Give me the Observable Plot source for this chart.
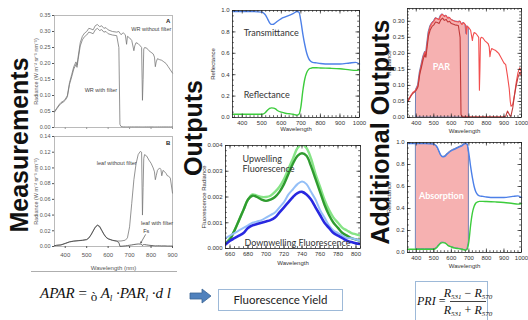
<!DOCTYPE html>
<html><head><meta charset="utf-8">
<script src="https://cdn.jsdelivr.net/npm/d3@7"></script>
<script src="https://cdn.jsdelivr.net/npm/@observablehq/plot@0.6"></script>
<style>
html,body{margin:0;padding:0;background:#fff;}
#root{position:relative;width:528px;height:320px;overflow:hidden;background:#fff;}
#root svg{position:absolute;overflow:visible;}
</style></head><body><div id="root"></div>
<script>
// ---------- DATA ----------
// Sky / white reference radiance (panel A and PAR panel)
const parWl = [350,360,370,380,390,400,410,420,430,440,450,455,460,470,480,490,500,510,520,530,540,550,560,570,580,590,600,620,640,650,655,660,670,680,686,690,700,710,720,724,730,740,750,756,760,763,766,770,780,790,800,810,816,820,824,830,840,850,860,870,880,890,900,910,920,930,936,940,950,960,970,980,990,1000];
const wrNoFilter = [0.05,0.06,0.07,0.078,0.082,0.088,0.10,0.14,0.165,0.19,0.205,0.195,0.22,0.265,0.285,0.295,0.30,0.31,0.308,0.305,0.318,0.322,0.315,0.318,0.31,0.312,0.305,0.30,0.298,0.30,0.295,0.29,0.296,0.29,0.26,0.285,0.28,0.272,0.24,0.255,0.265,0.262,0.255,0.25,0.085,0.15,0.245,0.25,0.248,0.24,0.235,0.23,0.22,0.19,0.205,0.215,0.212,0.21,0.205,0.2,0.19,0.18,0.17,0.165,0.13,0.09,0.05,0.035,0.04,0.07,0.11,0.14,0.155,0.14];
const wrFilter = [0.048,0.058,0.067,0.075,0.079,0.085,0.096,0.135,0.158,0.183,0.197,0.188,0.212,0.255,0.274,0.284,0.289,0.298,0.296,0.293,0.305,0.31,0.303,0.306,0.298,0.3,0.293,0.289,0.287,0.25,0.01,0.003,0.002,0.002,0.002,0.002,0.002,0.002,0.002,0.002,0.002,0.002,0.002,0.002,0.002,0.002,0.002,0.002,0.002,0.002,0.002,0.002,0.002,0.002,0.002,0.002,0.002,0.002,0.002,0.002,0.002,0.002,0.002,0.004,0.02,0.01,0.004,0.005,0.03,0.07,0.1,0.125,0.14,0.13];
// Leaf radiance (panel B)
const leafWl = [350,360,380,400,420,440,460,480,500,510,520,530,540,550,560,570,580,590,600,620,640,650,655,660,680,690,700,710,720,730,740,750,756,760,763,766,770,780,790,800,810,816,820,824,830,840,846,850,856,860,870,876,880,890,900];
const leafNoFilter = [0.001,0.0015,0.002,0.004,0.006,0.007,0.0075,0.008,0.009,0.011,0.015,0.02,0.025,0.0275,0.026,0.021,0.016,0.012,0.01,0.008,0.007,0.007,0.007,0.007,0.008,0.011,0.025,0.055,0.085,0.105,0.117,0.121,0.12,0.04,0.075,0.112,0.117,0.115,0.11,0.106,0.1,0.095,0.085,0.09,0.097,0.1,0.098,0.09,0.097,0.096,0.093,0.09,0.09,0.087,0.068];
const leafFilter = [0.001,0.0015,0.002,0.0038,0.0058,0.0068,0.0073,0.0078,0.0087,0.0107,0.0146,0.0195,0.0243,0.0268,0.0253,0.0204,0.0155,0.0117,0.0097,0.0078,0.0068,0.005,0.0003,0.0003,0.0008,0.0012,0.0016,0.002,0.0025,0.0029,0.0032,0.0031,0.0029,0.0012,0.002,0.0025,0.0024,0.002,0.0016,0.0013,0.0011,0.001,0.0008,0.0009,0.0009,0.0009,0.0008,0.0007,0.0008,0.0008,0.0007,0.0006,0.0006,0.0006,0.0005];
// Transmittance / reflectance
const trWl = [350,400,450,500,510,520,530,540,550,560,570,580,600,620,640,660,680,690,700,710,720,730,740,750,760,780,800,850,900,950,980,1000];
const transmittance = [0.99,0.99,0.99,0.985,0.975,0.955,0.92,0.885,0.87,0.872,0.885,0.9,0.925,0.94,0.955,0.97,0.99,0.985,0.9,0.78,0.68,0.6,0.55,0.525,0.515,0.51,0.505,0.5,0.5,0.51,0.515,0.5];
const reflectance = [0.03,0.03,0.03,0.03,0.035,0.05,0.07,0.085,0.09,0.088,0.08,0.065,0.05,0.04,0.035,0.03,0.022,0.03,0.1,0.25,0.36,0.42,0.45,0.46,0.465,0.465,0.463,0.46,0.455,0.445,0.44,0.445];
// Fluorescence
const flWl = [655,660,665,670,675,680,685,690,695,700,705,710,715,720,725,730,735,740,745,750,755,760,765,770,775,780,785,790,795,800,805];
const upLight = [0.0002,0.0004,0.0007,0.0011,0.0015,0.0019,0.0021,0.00205,0.002,0.002,0.00205,0.0022,0.0024,0.0027,0.0031,0.0035,0.0039,0.00405,0.0039,0.0035,0.0029,0.0024,0.0019,0.0015,0.0012,0.001,0.0008,0.0007,0.0006,0.00055,0.0005];
const upDark = [0.0002,0.00035,0.0007,0.0011,0.0015,0.0019,0.00205,0.002,0.0019,0.00185,0.0019,0.002,0.0022,0.0025,0.0029,0.0033,0.0036,0.0037,0.0036,0.0032,0.0027,0.0022,0.0017,0.0013,0.001,0.0008,0.0006,0.0005,0.0004,0.00035,0.0003];
const downLight = [0.0004,0.0005,0.0006,0.0007,0.0008,0.0009,0.001,0.00105,0.0011,0.0012,0.0013,0.0014,0.0016,0.0018,0.0021,0.0023,0.0025,0.0026,0.0025,0.0022,0.0019,0.0015,0.0012,0.0009,0.0007,0.0006,0.0005,0.0004,0.0004,0.00035,0.0003];
const downDark = [0.00015,0.0003,0.0004,0.0005,0.0006,0.0008,0.0009,0.00095,0.001,0.00105,0.0011,0.0012,0.0014,0.0016,0.0018,0.002,0.00215,0.0022,0.0021,0.0019,0.0016,0.0013,0.001,0.0008,0.0006,0.0005,0.0004,0.0003,0.00025,0.0002,0.00018];
// Ticks
const ticksA_y = [0,0.05,0.10,0.15,0.20,0.25,0.30,0.35];
const ticksB_y = [0,0.02,0.04,0.06,0.08,0.10,0.12,0.14];
const ticksAB_x = [400,500,600,700,800,900];
const ticksWl = [400,500,600,700,800,900,1000];
const ticksRefl = [0,0.2,0.4,0.6,0.8,1.0];
const ticksFl_x = [660,680,700,720,740,760,780,800];
const ticksFl_y = [0,0.001,0.002,0.003,0.004];
const ticksRad = [0,0.05,0.10,0.15,0.20,0.25,0.30];
// Annotations (data units)
const annA = [{t:"WR without filter",x:801,y:0.306},{t:"WR with filter",x:566,y:0.116}];
const annB = [{t:"leaf without filter",x:640,y:0.106},{t:"leaf with filter",x:828,y:0.029},{t:"Fs",x:778,y:0.019}];

// ---------- rows ----------
const parRows = parWl.map((w,i)=>({w, hi:wrNoFilter[i], lo:wrFilter[i]}));
const leafRows = leafWl.map((w,i)=>({w, no:leafNoFilter[i], f:leafFilter[i]}));
const trRows = trWl.map((w,i)=>({w, t:transmittance[i], r:reflectance[i]}));
const flRows = flWl.map((w,i)=>({w, ul:upLight[i], ud:upDark[i], dl:downLight[i], dd:downDark[i]}));

const root = document.getElementById("root");
function place(el,left,top){el.style.left=left+"px";el.style.top=top+"px";root.appendChild(el);}
const SANS = "Liberation Sans, Arial, sans-serif";

function boxTicks(xd,yd,iw,ih,xMaj,xMin,yMaj,yMin){
  const ux=(xd[1]-xd[0])/iw, uy=(yd[1]-yd[0])/ih, st={stroke:"#222",strokeWidth:0.7};
  const out=[];
  [[xMaj,3.5],[xMin,1.8]].forEach(([t,l])=>{
    out.push(Plot.ruleX(t,{x:d=>d,y1:yd[0],y2:yd[0]+l*uy,...st}));
    out.push(Plot.ruleX(t,{x:d=>d,y1:yd[1]-l*uy,y2:yd[1],...st}));
  });
  [[yMaj,3.5],[yMin,1.8]].forEach(([t,l])=>{
    out.push(Plot.ruleY(t,{y:d=>d,x1:xd[0],x2:xd[0]+l*ux,...st}));
    out.push(Plot.ruleY(t,{y:d=>d,x1:xd[1]-l*ux,x2:xd[1],...st}));
  });
  return out;
}
function idl(o){
  const iw=o.width-o.ml-o.mr, ih=o.height-o.mt-o.mb;
  const svg=Plot.plot({
    width:o.width,height:o.height,marginLeft:o.ml,marginRight:o.mr,marginTop:o.mt,marginBottom:o.mb,
    style:{background:"transparent",fontSize:"6px",fontFamily:SANS,color:"#333",overflow:"visible"},
    x:{domain:o.xd},y:{domain:o.yd},
    marks:[
      ...o.marks,
      Plot.frame({stroke:"#222",strokeWidth:0.8}),
      ...boxTicks(o.xd,o.yd,iw,ih,o.xMaj,o.xMin,o.yMaj,o.yMin),
      Plot.axisX(o.xMaj,{tickSize:0,tickPadding:3,tickFormat:o.xFmt,label:o.xLabel,labelAnchor:"center",labelOffset:o.xLO,labelArrow:"none"}),
      Plot.axisY(o.yMaj,{tickSize:0,tickPadding:3,tickFormat:o.yFmt,label:o.yLabel,labelAnchor:"center",labelOffset:o.yLO,labelArrow:"none"}),
      ...(o.after||[])
    ]
  });
  place(svg,o.left,o.top);
}
const range=(a,b,s)=>d3.range(a,b+s/2,s);

// ---------- Panel A ----------
{
  const svg=Plot.plot({
    width:146,height:125,marginLeft:24,marginRight:4,marginTop:7,marginBottom:6,
    style:{background:"transparent",fontSize:"5px",fontFamily:SANS,color:"#555",overflow:"visible"},
    x:{domain:[350,900]},y:{domain:[0,0.35]},
    marks:[
      Plot.frame({stroke:"#aaa",strokeWidth:0.8}),
      Plot.line(parRows.filter(d=>d.w<=900),{x:"w",y:"hi",stroke:"#777",strokeWidth:0.8}),
      Plot.line(parRows.filter(d=>d.w<=900),{x:"w",y:"lo",stroke:"#777",strokeWidth:0.8}),
      Plot.axisX(ticksAB_x,{tickSize:2,tickFormat:()=>"",label:null,stroke:"#999"}),
      Plot.axisY(ticksA_y,{tickSize:2,tickPadding:2,tickFormat:d3.format(".2f"),label:"Radiance (W m\u207B\u00B2 sr\u207B\u00B9 nm\u207B\u00B9)",labelAnchor:"center",labelOffset:20,labelArrow:"none",fontSize:5.5}),
      Plot.text(annA,{x:"x",y:"y",text:"t",fontSize:5.5,fill:"#444"}),
      Plot.text(["A"],{x:880,y:0.333,text:d=>d,fontSize:6,fontWeight:"bold",fill:"#222"})
    ]
  });
  place(svg,30,8);
}
// ---------- Panel B ----------
{
  const svg=Plot.plot({
    width:146,height:145,marginLeft:24,marginRight:4,marginTop:6,marginBottom:29,
    style:{background:"transparent",fontSize:"5px",fontFamily:SANS,color:"#555",overflow:"visible"},
    x:{domain:[350,900]},y:{domain:[0,0.14]},
    marks:[
      Plot.frame({stroke:"#aaa",strokeWidth:0.8}),
      Plot.line(leafRows,{x:"w",y:"no",stroke:"#777",strokeWidth:0.8}),
      Plot.line(leafRows,{x:"w",y:"f",stroke:"#444",strokeWidth:0.8}),
      Plot.axisX(ticksAB_x,{tickSize:2,tickPadding:4,tickFormat:d3.format("d"),label:"Wavelength (nm)",labelAnchor:"center",labelOffset:23,labelArrow:"none",fontSize:6}),
      Plot.axisY(ticksB_y,{tickSize:2,tickPadding:2,tickFormat:d3.format(".2f"),label:"Radiance (W m\u207B\u00B2 sr\u207B\u00B9 nm\u207B\u00B9)",labelAnchor:"center",labelOffset:20,labelArrow:"none",fontSize:5.5}),
      Plot.text(annB,{x:"x",y:"y",text:"t",fontSize:5.5,fill:"#444"}),
      Plot.arrow([{x1:774,y1:0.015,x2:752,y2:0.0045}],{x1:"x1",y1:"y1",x2:"x2",y2:"y2",stroke:"#333",strokeWidth:0.6,headLength:3}),
      Plot.text(["B"],{x:880,y:0.131,text:d=>d,fontSize:6,fontWeight:"bold",fill:"#222"})
    ]
  });
  place(svg,30,130);
}
// ---------- Middle top: transmittance / reflectance ----------
idl({left:207,top:0,width:158,height:133,ml:25,mr:6,mt:10,mb:16,
  xd:[350,1000],yd:[0,1],xMaj:ticksWl,xMin:range(360,1000,20),yMaj:ticksRefl,yMin:range(0,1,0.05),
  xFmt:d3.format("d"),yFmt:d3.format(".1f"),xLabel:"Wavelength",yLabel:"Reflectance",xLO:13,yLO:22,
  marks:[
    Plot.line(trRows,{x:"w",y:"t",stroke:"#4d80e8",strokeWidth:1.4,curve:"monotone-x"}),
    Plot.line(trRows,{x:"w",y:"r",stroke:"#3ccc3c",strokeWidth:1.4,curve:"monotone-x"}),
    Plot.text(["Transmittance"],{x:407,y:0.785,text:d=>d,textAnchor:"start",fontSize:9,fontFamily:"Lato",fill:"#333"}),
    Plot.text(["Reflectance"],{x:407,y:0.206,text:d=>d,textAnchor:"start",fontSize:9,fontFamily:"Lato",fill:"#333"})
  ]});
// ---------- Middle bottom: fluorescence ----------
idl({left:195,top:135,width:168,height:133,ml:30,mr:3,mt:10,mb:20,
  xd:[655,805],yd:[0,0.004],xMaj:ticksFl_x,xMin:range(660,805,5),yMaj:ticksFl_y,yMin:range(0,0.004,0.0002),
  xFmt:d3.format("d"),yFmt:d3.format(".3f"),xLabel:"Wavelength",yLabel:"Fluorescence Radiance",xLO:16,yLO:24,
  marks:[
    Plot.line(flRows,{x:"w",y:"ul",stroke:"#86e486",strokeWidth:2.4,curve:"catmull-rom",clip:true}),
    Plot.line(flRows,{x:"w",y:"ud",stroke:"#2f9c2f",strokeWidth:2.4,curve:"catmull-rom",clip:true}),
    Plot.line(flRows,{x:"w",y:"dl",stroke:"#94bff7",strokeWidth:2,curve:"catmull-rom",clip:true}),
    Plot.line(flRows,{x:"w",y:"dd",stroke:"#2828e0",strokeWidth:2.6,curve:"catmull-rom",clip:true}),
    Plot.text(["Upwelling"],{x:674,y:0.00346,text:d=>d,textAnchor:"start",fontSize:9,fontFamily:"Lato",fill:"#333"}),
    Plot.text(["Fluorescence"],{x:674,y:0.00307,text:d=>d,textAnchor:"start",fontSize:9,fontFamily:"Lato",fill:"#333"}),
    Plot.text(["Downwelling Fluorescence"],{x:676,y:0.00021,text:d=>d,textAnchor:"start",fontSize:9,fontFamily:"Lato",fill:"#333"})
  ]});
// ---------- Right top: PAR ----------
idl({left:380,top:0,width:146,height:135,ml:27,mr:5,mt:8,mb:18,
  xd:[350,1000],yd:[0,0.34],xMaj:ticksWl,xMin:range(360,1000,20),yMaj:ticksRad,yMin:range(0,0.34,0.01),
  xFmt:d3.format("d"),yFmt:d3.format(".2f"),xLabel:"Wavelength",yLabel:"Radiance",xLO:15,yLO:21,
  marks:[
    Plot.areaY(parRows.filter(d=>d.w>=400&&d.w<=700),{x:"w",y:"hi",fill:"#f6b1b1",stroke:"#7481b4",strokeWidth:1}),
    Plot.line(parRows,{x:"w",y:"hi",stroke:"#f24e4e",strokeWidth:1.1}),
    Plot.line(parRows,{x:"w",y:"lo",stroke:"#c03a3a",strokeWidth:1.1}),
    Plot.text(["PAR"],{x:543,y:0.156,text:d=>d,fontSize:9,fontWeight:"bold",fontFamily:"Lato",fill:"#fff"})
  ]});
// ---------- Right bottom: absorption ----------
idl({left:380,top:132,width:146,height:138,ml:27,mr:5,mt:10,mb:18,
  xd:[350,1000],yd:[0,1],xMaj:ticksWl,xMin:range(360,1000,20),yMaj:ticksRefl,yMin:range(0,1,0.05),
  xFmt:d3.format("d"),yFmt:d3.format(".1f"),xLabel:"Wavelength",yLabel:"Reflectance",xLO:15,yLO:21,
  marks:[
    Plot.areaY(trRows.filter(d=>d.w>=400&&d.w<=700),{x:"w",y1:"r",y2:"t",fill:"#f6b1b1",stroke:"#7481b4",strokeWidth:1,curve:"monotone-x"}),
    Plot.line(trRows,{x:"w",y:"t",stroke:"#4d80e8",strokeWidth:1.4,curve:"monotone-x"}),
    Plot.line(trRows,{x:"w",y:"r",stroke:"#3ccc3c",strokeWidth:1.4,curve:"monotone-x"}),
    Plot.text(["Absorption"],{x:543,y:0.51,text:d=>d,fontSize:9,fontWeight:"bold",fontFamily:"Lato",fill:"#fff"})
  ]});

// ---------- Overlay: section titles and formulas ----------
const ns="http://www.w3.org/2000/svg";
const ov=document.createElementNS(ns,"svg");
ov.setAttribute("width","528");ov.setAttribute("height","320");
ov.style.pointerEvents="none";
ov.innerHTML=`
<g font-family="Liberation Sans, Arial, sans-serif" font-weight="bold" font-size="25" fill="#111" text-anchor="middle" dominant-baseline="central">
  <text transform="translate(19,145) rotate(-90)">Measurements</text>
  <text transform="translate(193,128) rotate(-90)">Outputs</text>
  <text transform="translate(380,132) rotate(-90)">Additional Outputs</text>
</g>
<line x1="31" x2="177" y1="271.5" y2="271.5" stroke="#999" stroke-width="0.8"/>
<text x="40" y="298" font-family="Liberation Serif, serif" font-size="15" font-style="italic" fill="#111">APAR<tspan font-style="normal"> = </tspan><tspan font-style="normal" font-size="13" dy="3">ò</tspan><tspan dy="-3"> A</tspan><tspan font-size="9" dy="3">l</tspan><tspan dy="-3"> ·PAR</tspan><tspan font-size="9" dy="3">l</tspan><tspan dy="-3"> ·d</tspan><tspan> l</tspan></text>
<polygon points="190,293 202,293 202,289 211,296 202,303 202,299 190,299" fill="#4f81bd" stroke="#3a6494" stroke-width="0.8"/>
<rect x="218.5" y="289.5" width="124" height="21" fill="#fff" stroke="#9db9d8" stroke-width="1"/>
<text x="280.5" y="304" text-anchor="middle" font-family="Lato, sans-serif" font-size="11.5" fill="#222">Fluorescence Yield</text>
<rect x="415.5" y="281.5" width="72" height="45" fill="#fff" stroke="#9db9d8" stroke-width="1"/>
<g font-family="Liberation Serif, serif" font-style="italic" font-size="12" fill="#111">
  <text x="417" y="305">PRI<tspan font-style="normal"> =</tspan></text>
  <text x="468" y="297" text-anchor="middle">R<tspan font-size="7" dy="2">531</tspan><tspan dy="-2" font-style="normal"> − </tspan>R<tspan font-size="7" dy="2">570</tspan></text>
  <line x1="450" x2="486" y1="301.5" y2="301.5" stroke="#111" stroke-width="0.8"/>
  <text x="468" y="314" text-anchor="middle">R<tspan font-size="7" dy="2">531</tspan><tspan dy="-2" font-style="normal"> + </tspan>R<tspan font-size="7" dy="2">570</tspan></text>
</g>`;
place(ov,0,0);
</script></body></html>
